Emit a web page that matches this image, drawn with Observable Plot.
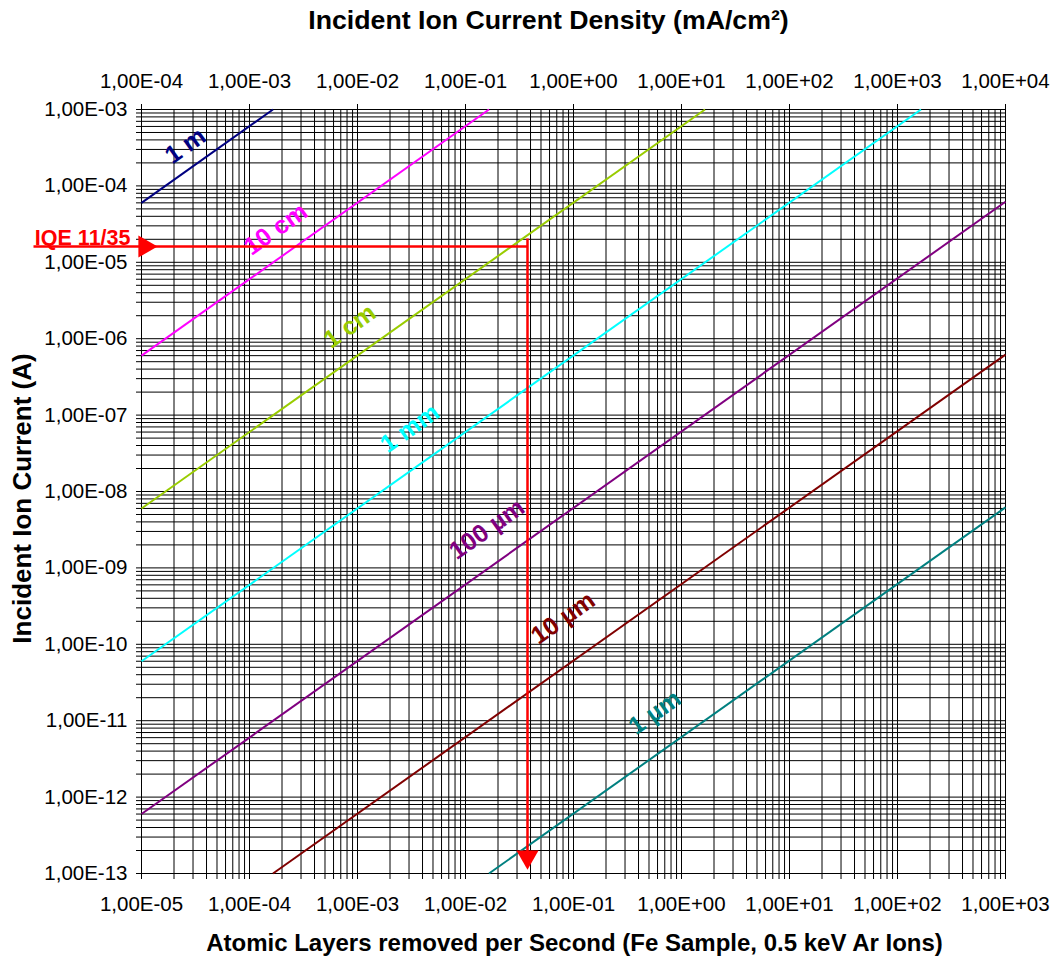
<!DOCTYPE html>
<html>
<head>
<meta charset="utf-8">
<script src="https://cdn.jsdelivr.net/npm/d3@7"></script>
<script src="https://cdn.jsdelivr.net/npm/@observablehq/plot@0.6"></script>
<style>
  html, body { margin: 0; padding: 0; background: #fff; }
  #chart svg { display: block; }
</style>
</head>
<body>
<div id="chart"></div>
<script>
// ---- Data ----
const xMajorTicks = [1e-5, 1e-4, 1e-3, 1e-2, 1e-1, 1e0, 1e1, 1e2, 1e3];          // atomic layers / s
const yMajorTicks = [1e-13, 1e-12, 1e-11, 1e-10, 1e-9, 1e-8, 1e-7, 1e-6, 1e-5, 1e-4, 1e-3]; // A
const topTickValues = [1e-4, 1e-3, 1e-2, 1e-1, 1e0, 1e1, 1e2, 1e3, 1e4];        // mA/cm²
const densityPerRate = 10; // mA/cm² per (atomic layer / s)

const lineLabels = ["1 m", "10 cm", "1 cm", "1 mm", "100 µm", "10 µm", "1 µm"];
const lineColors = ["#000080", "#FF00FF", "#99CC00", "#00FFFF", "#800080", "#800000", "#008080"];
const xStart = [1e-5, 1e-5, 1e-5, 1e-5, 1e-5, 1.65e-4, 1.65e-2];
const yStart = [6e-5, 6e-7, 6e-9, 6e-11, 6e-13, 1e-13, 1e-13];
const xEnd   = [1.65e-4, 1.65e-2, 1.65, 165, 1e3, 1e3, 1e3];
const yEnd   = [1e-3, 1e-3, 1e-3, 1e-3, 6.2e-5, 6.2e-7, 6.2e-9];
const labelX = [2.55e-5, 1.75e-4, 8.5e-4, 3.05e-3, 0.0158, 0.080, 0.565];
const labelY = [3.35e-4, 2.7e-5, 1.45e-6, 6.7e-8, 3.2e-9, 2.2e-10, 1.28e-11];

const markerLabel = "IQE 11/35";
const markerY = 1.61e-5;       // incident current (A)
const markerX = 0.0375;        // atomic layers / s
const markerStartX = 1e-6;     // horizontal arrow starts left of the axis
const markerLeftTipX = 1.4e-5; // tip of the right-pointing arrowhead
const markerBottomTipY = 1.13e-13; // tip of the down-pointing arrowhead

const titleTop = "Incident Ion Current Density (mA/cm²)";
const titleBottom = "Atomic Layers removed per Second (Fe Sample, 0.5 keV Ar Ions)";
const titleLeft = "Incident Ion Current (A)";

// ---- helpers ----
function minorTicks(majors) {
  const out = [];
  for (let i = 0; i < majors.length - 1; i++) for (let k = 1; k <= 9; k++) out.push(majors[i] * k);
  out.push(majors[majors.length - 1]);
  return out;
}
function fmt(v) {
  const e = Math.round(Math.log10(v));
  const m = v / Math.pow(10, e);
  return m.toFixed(2).replace(".", ",") + "E" + (e < 0 ? "-" : "+") + String(Math.abs(e)).padStart(2, "0");
}
function isMajor(v) {
  const l = Math.log10(v);
  return Math.abs(l - Math.round(l)) < 1e-6;
}
const xMinor = minorTicks(xMajorTicks);
const yMinor = minorTicks(yMajorTicks);

const series = lineLabels.map((label, i) => ({
  label, color: lineColors[i],
  x1: xStart[i], y1: yStart[i], x2: xEnd[i], y2: yEnd[i],
  lx: labelX[i], ly: labelY[i]
}));

const font = "'Liberation Sans', Arial, Helvetica, sans-serif";
const red = "#FF0000";

const chart = Plot.plot({
  width: 1060,
  height: 959,
  marginLeft: 141,
  marginRight: 55,
  marginTop: 109,
  marginBottom: 86,
  style: { fontFamily: font, fontSize: "20px", background: "#fff", color: "#000", overflow: "visible" },
  x: { type: "log", domain: [1e-5, 1e3] },
  y: { type: "log", domain: [1e-13, 1e-3] },
  color: { type: "identity" },
  marks: [
    Plot.gridX(xMinor, { stroke: "#000", strokeOpacity: 1, strokeWidth: 1 }),
    Plot.gridY(yMinor, { stroke: "#000", strokeOpacity: 1, strokeWidth: 1 }),
    Plot.frame({ stroke: "#000", strokeWidth: 1 }),
    // left axis
    Plot.axisY(yMinor, {
      anchor: "left", tickSize: 5, tickPadding: 9, label: null,
      tickFormat: d => isMajor(d) ? fmt(d) : "", fontSize: 20.5, stroke: "#000"
    }),
    // bottom axis
    Plot.axisX(xMinor, {
      anchor: "bottom", tickSize: 6, tickPadding: 17, label: null,
      tickFormat: d => isMajor(d) ? fmt(d) : "", fontSize: 20.5, stroke: "#000"
    }),
    // top axis: current density
    Plot.axisX(topTickValues.map(v => v / densityPerRate), {
      anchor: "top", tickSize: 6, tickPadding: 16, label: null,
      tickFormat: d => fmt(d * densityPerRate), fontSize: 20.5, stroke: "#000"
    }),
    // diagonal lines
    Plot.link(series, { x1: "x1", y1: "y1", x2: "x2", y2: "y2", stroke: d => d.color, strokeWidth: 2 }),
    Plot.text(series, {
      x: "lx", y: "ly", text: "label", fill: d => d.color, rotate: -35.3,
      fontSize: 25, fontWeight: "bold", textAnchor: "middle", lineAnchor: "middle"
    }),
    // IQE marker
    Plot.link([0], { x1: () => markerStartX, x2: () => markerX, y1: () => markerY, y2: () => markerY, stroke: red, strokeWidth: 2.5 }),
    Plot.link([0], { x1: () => markerX, x2: () => markerX, y1: () => markerY, y2: () => markerBottomTipY, stroke: red, strokeWidth: 2.5, dy: -8 }),
    Plot.dot([0], { x: () => markerLeftTipX, y: () => markerY, symbol: "triangle", rotate: 90, r: 8.2, fill: red, stroke: null, dx: -12.5 }),
    Plot.dot([0], { x: () => markerX, y: () => markerBottomTipY, symbol: "triangle", rotate: 180, r: 8.2, fill: red, stroke: null, dy: -12.5 }),
    Plot.text([markerLabel], {
      x: () => 1e-5, y: () => markerY, text: d => d, fill: red, fontWeight: "bold", fontSize: 21.5,
      textAnchor: "end", lineAnchor: "bottom", dx: -11, dy: -1
    }),
    // titles
    Plot.text([titleTop], { frameAnchor: "top", text: d => d, textAnchor: "middle", lineAnchor: "middle",
      dx: -25, dy: -89.5, fontSize: 26.7, fontWeight: "bold", fill: "#000" }),
    Plot.text([titleBottom], { frameAnchor: "bottom", text: d => d, textAnchor: "middle", lineAnchor: "middle",
      dx: 1, dy: 70, fontSize: 24, fontWeight: "bold", fill: "#000" }),
    Plot.text([titleLeft], { frameAnchor: "left", text: d => d, textAnchor: "middle", lineAnchor: "middle",
      rotate: -90, dx: -119, dy: 7, fontSize: 26, fontWeight: "bold", fill: "#000" })
  ]
});
document.getElementById("chart").appendChild(chart);
</script>
</body>
</html>
